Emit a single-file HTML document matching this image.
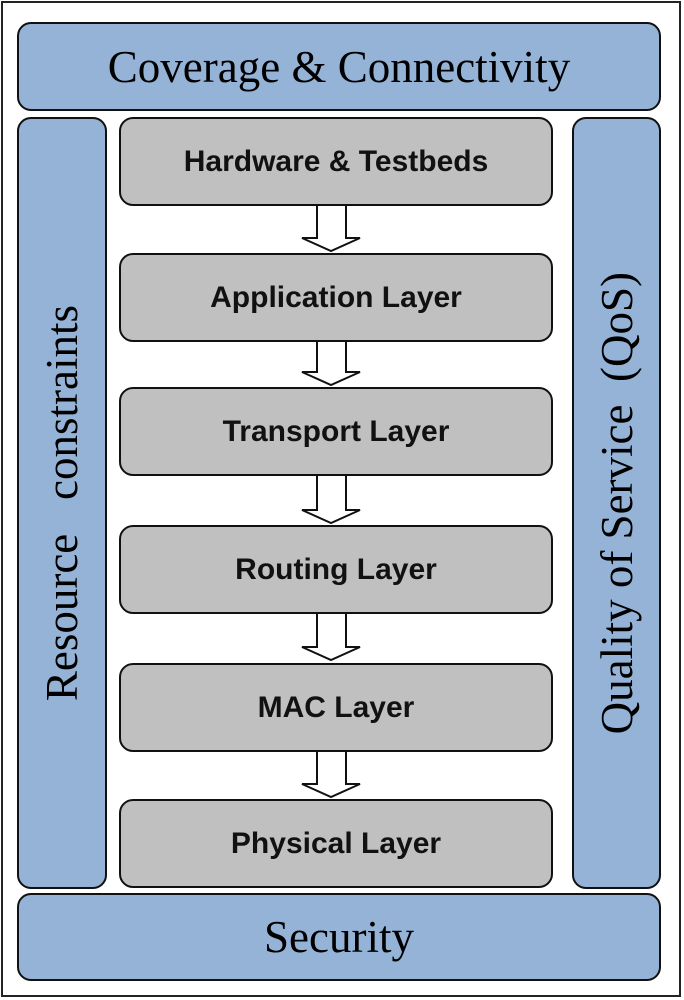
<!DOCTYPE html>
<html><head><meta charset="utf-8"><style>
body{margin:0;width:684px;height:1000px;position:relative;background:#fff;overflow:hidden}
.frame{position:absolute;left:1px;top:1px;width:680px;height:996px;border:2px solid #222;box-sizing:border-box}
.b{position:absolute;box-sizing:border-box;border:2px solid #111;border-radius:14px;display:flex;align-items:center;justify-content:center}
.blue{background:#95b3d7;font-family:"Liberation Serif",serif;font-size:45px;color:#000}
.gray{background:#c0c0c0;left:119px;width:434px;height:89px;font-family:"Liberation Sans",sans-serif;font-weight:bold;font-size:30px;color:#111}
.v{writing-mode:vertical-rl;white-space:nowrap}
</style></head><body>
<div class="frame"></div>
<div class="b blue" style="left:17px;top:22px;width:644px;height:89px">Coverage &amp; Connectivity</div>
<div class="b blue" style="left:17px;top:117px;width:90px;height:772px"><span class="v" style="transform:rotate(180deg)">Resource&nbsp;&nbsp; constraints</span></div>
<div class="b blue" style="left:572px;top:117px;width:89px;height:772px"><span class="v" style="transform:rotate(180deg)">Quality of Service&nbsp;&nbsp;(QoS)</span></div>
<div class="b blue" style="left:17px;top:893px;width:644px;height:88px">Security</div>
<div class="b gray" style="top:117px">Hardware &amp; Testbeds</div>
<div class="b gray" style="top:253px">Application Layer</div>
<div class="b gray" style="top:387px">Transport Layer</div>
<div class="b gray" style="top:525px">Routing Layer</div>
<div class="b gray" style="top:663px">MAC Layer</div>
<div class="b gray" style="top:799px">Physical Layer</div>
<svg width="684" height="1000" style="position:absolute;left:0;top:0">
<g fill="#fff" stroke="#111" stroke-width="2">
<polygon points="317,205 346,205 346,238 360,238 331,251 302,238 317,238"/>
<polygon points="317,341 346,341 346,372 360,372 331,385 302,372 317,372"/>
<polygon points="317,475 346,475 346,510 360,510 331,523 302,510 317,510"/>
<polygon points="317,613 346,613 346,647 360,647 331,660 302,647 317,647"/>
<polygon points="317,751 346,751 346,784 360,784 331,797 302,784 317,784"/>
</g></svg>
</body></html>
